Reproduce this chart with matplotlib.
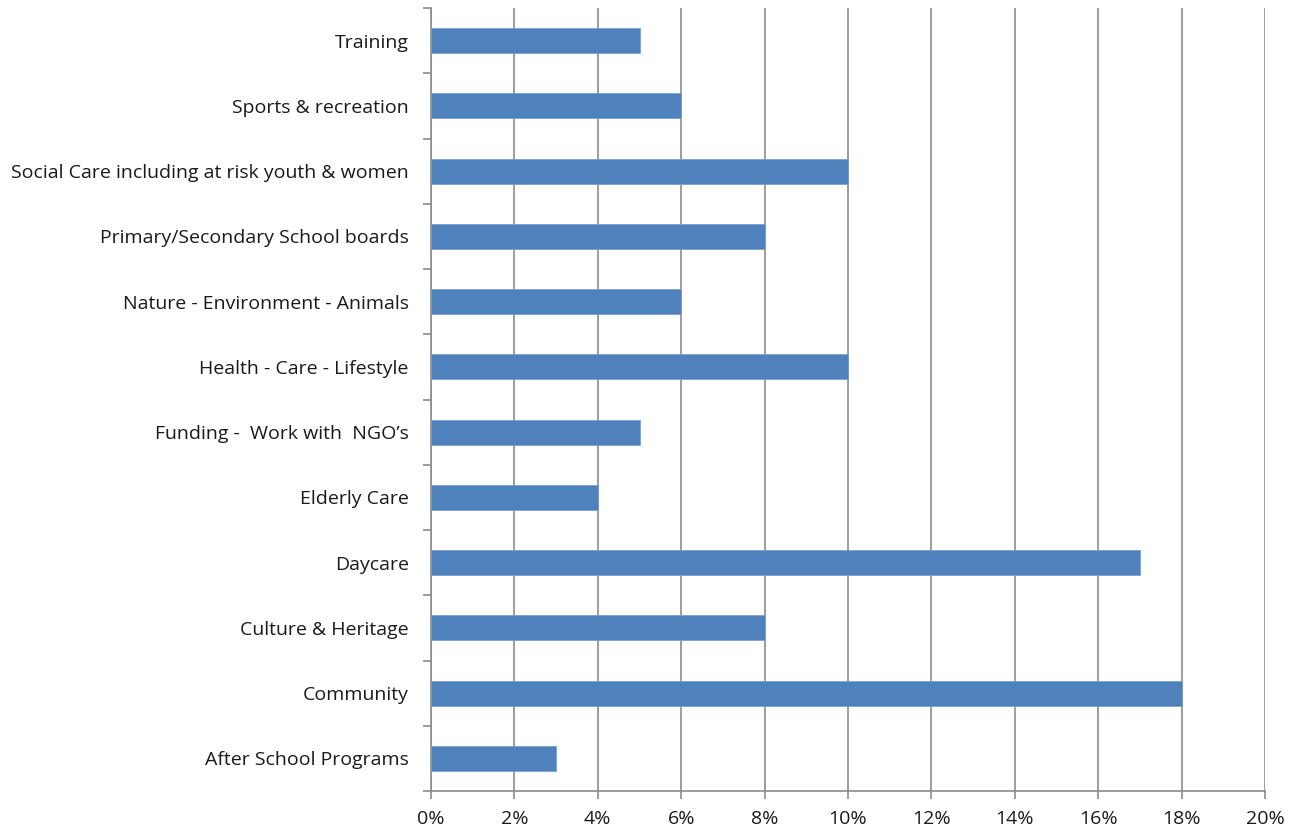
import matplotlib.pyplot as plt
import numpy as np
from matplotlib.ticker import FixedLocator, FuncFormatter

# categories listed bottom to top
categories = [
    "After School Programs",
    "Community",
    "Culture & Heritage",
    "Daycare",
    "Elderly Care",
    "Funding -  Work with  NGO\u2019s",
    "Health - Care - Lifestyle",
    "Nature - Environment - Animals",
    "Primary/Secondary School boards",
    "Social Care including at risk youth & women",
    "Sports & recreation",
    "Training",
]
shares = [3, 18, 8, 17, 4, 5, 10, 6, 8, 10, 6, 5]  # percent
x_ticks = [0, 2, 4, 6, 8, 10, 12, 14, 16, 18, 20]

plt.rcParams['font.family'] = ['Open Sans', 'DejaVu Sans']

fig = plt.figure(figsize=(12.97, 8.32), dpi=100)
ax = fig.add_axes([431 / 1297, 1 - 791 / 832, (1265 - 431) / 1297, (791 - 8) / 832])

y = np.arange(len(categories))
ax.barh(y, shares, height=0.38, color='#4F81BD', edgecolor='#7A9FCF', linewidth=0.6, zorder=3)

ax.set_xlim(0, 20)
ax.set_ylim(-0.5, len(categories) - 0.5)

ax.set_xticks(x_ticks)
ax.xaxis.set_major_formatter(FuncFormatter(lambda v, p: f"{v:.0f}%"))
ax.grid(axis='x', color='#8C8C8C', linewidth=1.2, zorder=0)

ax.set_yticks(y)
ax.set_yticklabels(categories)
ax.yaxis.set_minor_locator(FixedLocator(np.arange(-0.5, len(categories), 1)))
ax.tick_params(axis='y', which='major', length=0, pad=16, labelsize=14, labelcolor='#1a1a1a')
ax.tick_params(axis='y', which='minor', length=6, width=1.2, color='#8C8C8C')
ax.tick_params(axis='x', which='major', length=6, width=1.2, color='#8C8C8C',
               labelsize=14, labelcolor='#1a1a1a', pad=8)

for side in ['top', 'right']:
    ax.spines[side].set_visible(False)
for side in ['left', 'bottom']:
    ax.spines[side].set_color('#8C8C8C')
    ax.spines[side].set_linewidth(1.2)

fig.savefig('out.png', dpi=100)
